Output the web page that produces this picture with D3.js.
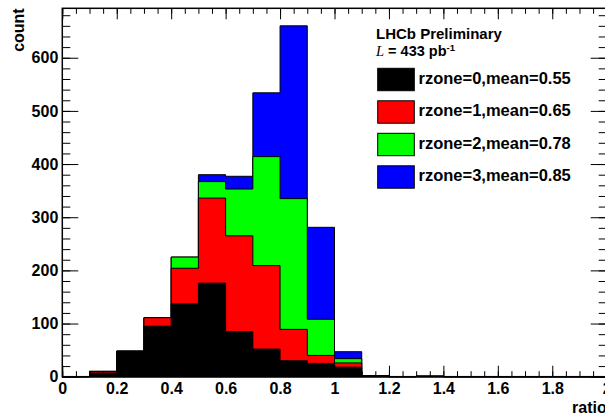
<!DOCTYPE html>
<html>
<head>
<meta charset="utf-8">
<script src="https://cdn.jsdelivr.net/npm/d3@7"></script>
<style>
  body { margin: 0; background: #fff; }
  svg { display: block; font-family: "Liberation Sans", Arial, sans-serif; font-weight: bold; }
</style>
</head>
<body>
<div id="chart"></div>
<script>
// bin lower edges, width 0.1
const binLo = [0, 0.1, 0.2, 0.3, 0.4, 0.5, 0.6, 0.7, 0.8, 0.9, 1.0, 1.1, 1.2, 1.3, 1.4, 1.5, 1.6, 1.7, 1.8, 1.9];
const binWidth = 0.1;

// counts per rzone (stacked, rzone 0 at the bottom)
const rzone0 = [0, 7, 48, 95, 137, 176, 85, 52, 30, 25, 18, 2, 0, 1, 0, 0, 0, 0, 0, 0];
const rzone1 = [0, 3, 0, 16, 67, 160, 180, 157, 59, 15, 8, 0, 0, 0, 0, 0, 0, 0, 0, 0];
const rzone2 = [0, 0, 0, 0, 21, 31, 88, 205, 246, 68, 8, 0, 0, 0, 0, 0, 0, 0, 0, 0];
const rzone3 = [0, 0, 0, 0, 0, 13, 24, 120, 325, 173, 13, 0, 0, 0, 0, 0, 0, 0, 0, 0];

const seriesNames = ["rzone=0,mean=0.55", "rzone=1,mean=0.65", "rzone=2,mean=0.78", "rzone=3,mean=0.85"];
const seriesColors = ["#000000", "#ff0000", "#00ff00", "#0000ff"];

const xTicks = [0, 0.2, 0.4, 0.6, 0.8, 1, 1.2, 1.4, 1.6, 1.8, 2];
const yTicks = [0, 100, 200, 300, 400, 500, 600];

const width = 605, height = 416;
const frame = { left: 62.3, right: 606.7, top: 8.3, bottom: 376.7 };

const svg = d3.select("#chart").append("svg")
    .attr("width", width)
    .attr("height", height);

const x = d3.scaleLinear().domain([0, 2]).range([frame.left, frame.right]);
const y = d3.scaleLinear().domain([0, 693]).range([frame.bottom, frame.top]);

// cumulative sums, drawn from the top one down
const layers = [rzone0, rzone1, rzone2, rzone3];
const cumul = [];
let run = binLo.map(() => 0);
layers.forEach(l => {
    run = run.map((v, i) => v + l[i]);
    cumul.push(run);
});

const area = d3.area()
    .x(d => x(d[0]))
    .y0(y(0))
    .y1(d => y(d[1]));

function stepPoints(vals) {
    const pts = [];
    binLo.forEach((lo, i) => {
        pts.push([lo, vals[i]]);
        pts.push([lo + binWidth, vals[i]]);
    });
    return pts;
}

for (let k = cumul.length - 1; k >= 0; k--) {
    svg.append("path")
        .attr("d", area(stepPoints(cumul[k])))
        .attr("fill", seriesColors[k])
        .attr("stroke", "#000")
        .attr("stroke-width", 1);
}

// axes, ticks pointing inside the frame
function styleAxis(g) {
    g.select(".domain").remove();
    g.selectAll("line").attr("stroke", "#000");
    g.selectAll("text").attr("fill", "#000").style("font-size", "16px").style("font-weight", "bold");
}
const xMinor = d3.range(0, 2.0001, 0.05);
const yMinor = d3.range(0, 693, 20);

svg.append("g").attr("transform", `translate(0,${frame.bottom})`)
    .call(d3.axisBottom(x).tickValues(xMinor).tickSize(-5.5).tickFormat("")).call(styleAxis);
svg.append("g").attr("transform", `translate(0,${frame.bottom})`)
    .call(d3.axisBottom(x).tickValues(xTicks).tickSize(-11).tickPadding(6).tickFormat(d3.format("~g"))).call(styleAxis);
svg.append("g").attr("transform", `translate(0,${frame.top})`)
    .call(d3.axisTop(x).tickValues(xMinor).tickSize(-5.5).tickFormat("")).call(styleAxis);
svg.append("g").attr("transform", `translate(0,${frame.top})`)
    .call(d3.axisTop(x).tickValues(xTicks).tickSize(-11).tickFormat("")).call(styleAxis);

svg.append("g").attr("transform", `translate(${frame.left},0)`)
    .call(d3.axisLeft(y).tickValues(yMinor).tickSize(-8).tickFormat("")).call(styleAxis);
svg.append("g").attr("transform", `translate(${frame.left},0)`)
    .call(d3.axisLeft(y).tickValues(yTicks).tickSize(-16).tickPadding(4)).call(styleAxis);
svg.append("g").attr("transform", `translate(${frame.right},0)`)
    .call(d3.axisRight(y).tickValues(yMinor).tickSize(-8).tickFormat("")).call(styleAxis);
svg.append("g").attr("transform", `translate(${frame.right},0)`)
    .call(d3.axisRight(y).tickValues(yTicks).tickSize(-16).tickFormat("")).call(styleAxis);

// frame
svg.append("rect")
    .attr("x", frame.left).attr("y", frame.top)
    .attr("width", frame.right - frame.left).attr("height", frame.bottom - frame.top)
    .attr("fill", "none").attr("stroke", "#000").attr("stroke-width", 1.5);

// axis titles
svg.append("text")
    .attr("transform", `translate(24,${frame.top}) rotate(-90)`)
    .attr("text-anchor", "end")
    .style("font-size", "16px")
    .text("count");
svg.append("text")
    .attr("x", frame.right).attr("y", 413)
    .attr("text-anchor", "end")
    .style("font-size", "16px")
    .text("ratio");

// legend
svg.append("text").attr("x", 376).attr("y", 39.3).style("font-size", "15px").text("LHCb Preliminary");
const lumi = svg.append("text").attr("x", 376).attr("y", 55.5).style("font-size", "14.5px");
lumi.append("tspan").style("font-family", "'Liberation Serif', 'Times New Roman', serif")
    .style("font-style", "italic").style("font-weight", "normal").text("L");
lumi.append("tspan").text(" = 433 pb");
lumi.append("tspan").attr("dy", -5).style("font-size", "9.5px").text("-1");

const leg = svg.append("g");
seriesNames.forEach((name, i) => {
    const top = 68.3 + i * 32.5;
    leg.append("rect")
        .attr("x", 377.7).attr("y", top)
        .attr("width", 36.6).attr("height", 22.4)
        .attr("fill", seriesColors[i])
        .attr("stroke", "#000").attr("stroke-width", 1);
    leg.append("text")
        .attr("x", 418.5).attr("y", top + 15.2)
        .style("font-size", "16.5px")
        .text(name);
});
</script>
</body>
</html>
